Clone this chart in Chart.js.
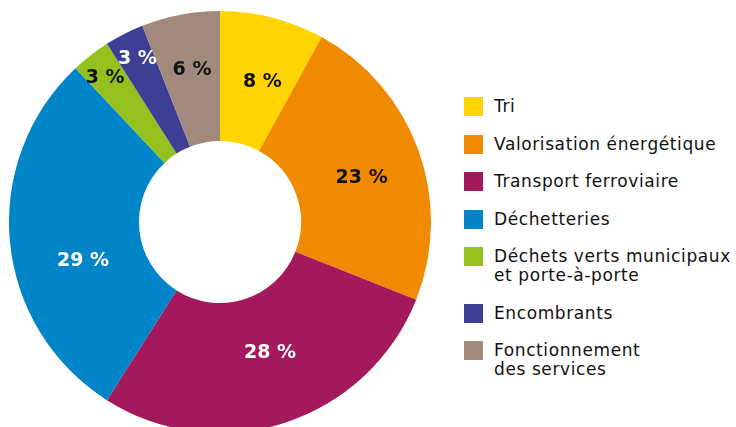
<!DOCTYPE html>
<html lang="fr">
<head>
    <meta charset="UTF-8">
    <title>Répartition des dépenses</title>
    <script src="https://cdn.jsdelivr.net/npm/chart.js"></script>
    <style>
        html, body {
            margin: 0;
            padding: 0;
            width: 736px;
            height: 427px;
            overflow: hidden;
            background: #fff;
        }

        .chart-box {
            position: absolute;
            left: 0;
            top: 0;
            width: 442px;
            height: 444px;
        }

        .legend {
            position: absolute;
            left: 464px;
            top: 97px;
            margin: 0;
            padding: 0;
            list-style: none;
            font-family: 'DejaVu Sans', sans-serif;
            font-size: 17px;
            letter-spacing: 0.6px;
            line-height: 19px;
            color: #111;
        }

        .legend li {
            display: flex;
            align-items: flex-start;
            margin-bottom: 18.5px;
        }

        .legend .swatch {
            width: 19px;
            height: 19px;
            flex: none;
            margin-right: 11px;
        }

        .legend .txt {
            white-space: pre-line;
        }
    </style>
</head>
<body>
    <div class="chart-box">
        <canvas id="donut"></canvas>
    </div>
    <ul class="legend" id="legend"></ul>

    <script>
        const categories = [
            'Tri',
            'Valorisation énergétique',
            'Transport ferroviaire',
            'Déchetteries',
            'Déchets verts municipaux\net porte-à-porte',
            'Encombrants',
            'Fonctionnement\ndes services'
        ];
        const shares = [8, 23, 28, 29, 3, 3, 6];
        const valueLabels = ['8 %', '23 %', '28 %', '29 %', '3 %', '3 %', '6 %'];

        const colors = ['#FFD400', '#F08A00', '#A3195B', '#0085C8', '#95C11F', '#3C3F93', '#A18A7C'];

        // label placement tweaks (radial fraction across ring, angle shift in degrees)
        const labelRadial = [0.51, 0.52, 0.45, 0.47, 0.8, 0.79, 0.57];
        const labelShift = [2.3, 2.2, -3, -10, -0.6, 0.3, 0.4];
        const labelColors = ['#111', '#111', '#fff', '#fff', '#111', '#fff', '#111'];

        const sliceLabels = {
            id: 'sliceLabels',
            afterDatasetsDraw(chart) {
                const ctx = chart.ctx;
                const arcs = chart.getDatasetMeta(0).data;
                ctx.save();
                ctx.font = 'bold 19px "DejaVu Sans", sans-serif';
                ctx.textAlign = 'center';
                ctx.textBaseline = 'middle';
                arcs.forEach((arc, i) => {
                    const p = arc.getProps(['x', 'y', 'startAngle', 'endAngle', 'innerRadius', 'outerRadius'], true);
                    const a = (p.startAngle + p.endAngle) / 2 + labelShift[i] * Math.PI / 180;
                    const r = p.innerRadius + (p.outerRadius - p.innerRadius) * labelRadial[i];
                    ctx.fillStyle = labelColors[i];
                    ctx.fillText(valueLabels[i], p.x + r * Math.cos(a), p.y + r * Math.sin(a) + 1);
                });
                ctx.restore();
            }
        };

        new Chart(document.getElementById('donut'), {
            type: 'doughnut',
            data: {
                labels: categories,
                datasets: [{
                    data: shares,
                    backgroundColor: colors,
                    borderWidth: 0,
                    hoverOffset: 0,
                    offset: 0
                }]
            },
            options: {
                responsive: true,
                maintainAspectRatio: false,
                animation: false,
                cutout: '38.4%',
                layout: {
                    padding: { left: 9, right: 11, top: 11, bottom: 11 }
                },
                plugins: {
                    legend: { display: false },
                    tooltip: { enabled: false }
                }
            },
            plugins: [sliceLabels]
        });

        // HTML legend built from the same arrays
        const legendEl = document.getElementById('legend');
        categories.forEach((name, i) => {
            const li = document.createElement('li');
            li.innerHTML = '<span class="swatch" style="background:' + colors[i] + '"></span><span class="txt"></span>';
            li.querySelector('.txt').textContent = name;
            legendEl.appendChild(li);
        });
    </script>
</body>
</html>
